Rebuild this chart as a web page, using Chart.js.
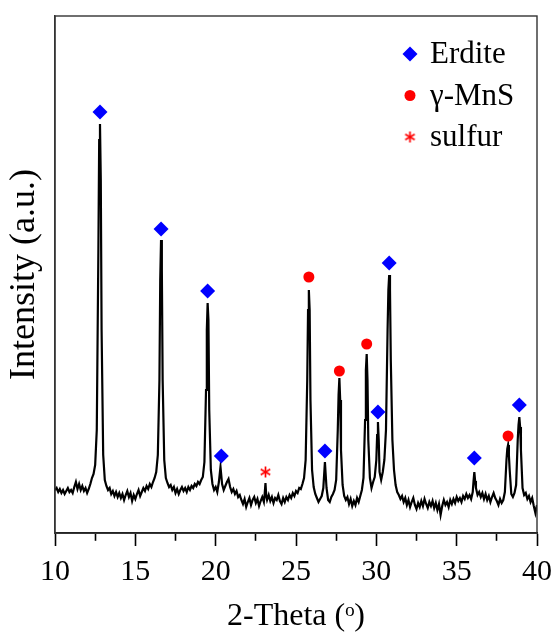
<!DOCTYPE html>
<html>
<head>
<meta charset="utf-8">
<script src="https://cdn.jsdelivr.net/npm/chart.js@4.4.0/dist/chart.umd.min.js"></script>
<style>
  html, body { margin: 0; padding: 0; background: #fff; }
  #wrap { width: 560px; height: 633px; }
</style>
</head>
<body>
<div id="wrap"><canvas id="xrd" width="560" height="633"></canvas></div>
<script>
// --- pattern (2-theta in degrees, intensity in a.u.) ---
const twoTheta = [
  10.0, 10.1, 10.2, 10.3, 10.4, 10.5, 10.6, 10.7, 10.8, 10.9,
  11.0, 11.1, 11.2, 11.3, 11.4, 11.5, 11.6, 11.7, 11.8, 11.9,
  12.0, 12.1, 12.2, 12.3, 12.4, 12.5, 12.6, 12.7, 12.75, 12.8, 12.85, 12.9,
  13.0, 13.1, 13.2, 13.3, 13.4, 13.5, 13.6, 13.7, 13.8, 13.9,
  14.0, 14.1, 14.2, 14.3, 14.4, 14.5, 14.6, 14.7, 14.8, 14.9,
  15.0, 15.1, 15.2, 15.3, 15.4, 15.5, 15.6, 15.7, 15.8, 15.9,
  16.0, 16.1, 16.2, 16.3, 16.4, 16.5, 16.55, 16.6, 16.65, 16.7, 16.8, 16.9,
  17.0, 17.1, 17.2, 17.3, 17.4, 17.5, 17.6, 17.7, 17.8, 17.9,
  18.0, 18.1, 18.2, 18.3, 18.4, 18.5, 18.6, 18.7, 18.8, 18.9,
  19.0, 19.1, 19.2, 19.3, 19.4, 19.45, 19.5, 19.55, 19.6, 19.7, 19.8, 19.9,
  20.0, 20.1, 20.2, 20.3, 20.4, 20.5, 20.6, 20.7, 20.8, 20.9,
  21.0, 21.1, 21.2, 21.3, 21.4, 21.5, 21.6, 21.7, 21.8, 21.9,
  22.0, 22.1, 22.2, 22.3, 22.4, 22.5, 22.6, 22.7, 22.8, 22.9,
  23.0, 23.05, 23.1, 23.15, 23.2, 23.3, 23.4, 23.5, 23.6, 23.7, 23.8, 23.9,
  24.0, 24.1, 24.2, 24.3, 24.4, 24.5, 24.6, 24.7, 24.8, 24.9,
  25.0, 25.1, 25.2, 25.3, 25.4, 25.5, 25.6, 25.7, 25.75, 25.8, 25.85, 25.9,
  26.0, 26.1, 26.2, 26.3, 26.4, 26.5, 26.6, 26.7, 26.8, 26.9,
  27.0, 27.1, 27.2, 27.3, 27.4, 27.5, 27.6, 27.65, 27.7, 27.75, 27.8, 27.9,
  28.0, 28.1, 28.2, 28.3, 28.4, 28.5, 28.6, 28.7, 28.8, 28.9,
  29.0, 29.1, 29.2, 29.3, 29.35, 29.4, 29.45, 29.5, 29.6, 29.7, 29.8, 29.9,
  30.0, 30.05, 30.1, 30.15, 30.2, 30.3, 30.4, 30.5, 30.6, 30.7, 30.75, 30.8, 30.85, 30.9,
  31.0, 31.1, 31.2, 31.3, 31.4, 31.5, 31.6, 31.7, 31.8, 31.9,
  32.0, 32.1, 32.2, 32.3, 32.4, 32.5, 32.6, 32.7, 32.8, 32.9,
  33.0, 33.1, 33.2, 33.3, 33.4, 33.5, 33.6, 33.7, 33.8, 33.9,
  34.0, 34.1, 34.2, 34.3, 34.4, 34.5, 34.6, 34.7, 34.8, 34.9,
  35.0, 35.1, 35.2, 35.3, 35.4, 35.5, 35.6, 35.7, 35.8, 35.9,
  36.0, 36.05, 36.1, 36.15, 36.2, 36.3, 36.4, 36.5, 36.6, 36.7, 36.8, 36.9,
  37.0, 37.1, 37.2, 37.3, 37.4, 37.5, 37.6, 37.7, 37.8, 37.9,
  38.0, 38.1, 38.15, 38.2, 38.25, 38.3, 38.4, 38.5, 38.6, 38.7, 38.8, 38.85, 38.9, 38.95,
  39.0, 39.1, 39.2, 39.3, 39.4, 39.5, 39.6, 39.7, 39.8, 39.9,
  40.0
];
const intensity = [
  43, 45, 41, 44, 40, 43, 39, 42, 45, 41,
  43, 40, 46, 51, 44, 49, 43, 47, 42, 45,
  40, 44, 49, 55, 59, 68, 103, 283, 393, 409, 353, 203,
  78, 53, 47, 43, 45, 39, 42, 37, 41, 36,
  40, 35, 39, 33, 38, 42, 36, 40, 32, 38,
  34, 39, 43, 37, 41, 45, 42, 47, 44, 49,
  46, 51, 55, 61, 78, 153, 253, 293, 263, 153, 73, 55,
  50, 46, 48, 43, 46, 40, 44, 39, 43, 46,
  42, 45, 41, 46, 43, 47, 45, 49, 47, 51,
  49, 53, 56, 71, 143, 203, 230, 213, 123, 63, 49, 43,
  46, 41, 51, 66, 49, 43, 47, 51, 54, 46,
  41, 44, 39, 42, 36, 38, 33, 29, 34, 26,
  31, 35, 28, 33, 36, 30, 34, 27, 32, 36,
  31, 39, 50, 37, 33, 38, 32, 36, 30, 35, 33, 38,
  32, 29, 35, 31, 36, 33, 38, 35, 40, 37,
  42, 40, 45, 44, 49, 55, 73, 153, 223, 243, 223, 133,
  63, 46, 39, 35, 31, 34, 37, 45, 71, 45,
  33, 31, 36, 39, 43, 53, 103, 138, 155, 133, 83, 48,
  37, 33, 36, 29, 34, 27, 32, 28, 35, 31,
  37, 43, 55, 113, 163, 179, 153, 93, 55, 45, 51, 56,
  73, 98, 111, 93, 61, 53, 61, 73, 103, 203, 243, 258, 243, 173,
  93, 63, 48, 41, 38, 34, 37, 31, 35, 28,
  33, 26, 31, 35, 28, 24, 30, 26, 32, 27,
  34, 29, 25, 31, 27, 32, 25, 30, 23, 29,
  18, 27, 33, 28, 31, 26, 33, 29, 34, 30,
  36, 32, 35, 31, 37, 34, 39, 35, 38, 34,
  41, 52, 61, 52, 45, 38, 41, 36, 40, 34, 39, 33,
  37, 31, 36, 40, 35, 32, 28, 34, 30, 33,
  41, 73, 84, 88, 78, 63, 39, 36, 40, 48, 93, 108, 116, 106,
  83, 45, 38, 40, 34, 37, 31, 35, 27, 20,
  28
];

// --- phase markers ---
const erditeTheta = [12.8, 16.6, 19.5, 20.35, 26.8, 30.1, 30.8, 36.1, 38.9];
const erditeLevel = [421, 304, 242, 77, 82, 121, 270, 75, 128];
const mnsTheta = [25.8, 27.7, 29.4, 38.2];
const mnsLevel = [256, 162, 189, 97];
const sulfurTheta = [23.1];
const sulfurLevel = [61];

const xTickLabels = [10, 15, 20, 25, 30, 35, 40];

const SERIF = '"Liberation Serif", "Times New Roman", serif';
const toPoints = (xs, ys) => xs.map((x, i) => ({ x: x, y: ys[i] }));

// asterisk marker for sulfur, drawn once on a small canvas
const makeAsterisk = (size, color) => {
    const c = document.createElement('canvas');
    c.width = size;
    c.height = size;
    const g = c.getContext('2d');
    g.strokeStyle = color;
    g.lineWidth = 1.7;
    const m = size / 2;
    const r = size / 2 - 1;
    for (let k = 0; k < 3; k++) {
        const a = Math.PI / 2 + k * Math.PI / 3;
        g.beginPath();
        g.moveTo(m + r * Math.cos(a), m + r * Math.sin(a));
        g.lineTo(m - r * Math.cos(a), m - r * Math.sin(a));
        g.stroke();
    }
    return c;
};
const asterisk = makeAsterisk(13, '#ff0000');

// box round the plot area
const frame = {
    id: 'frame',
    afterDraw(chart) {
        const { ctx, chartArea: a } = chart;
        ctx.save();
        ctx.strokeStyle = '#333';
        ctx.lineWidth = 1.4;
        ctx.strokeRect(a.left, a.top, a.right - a.left, a.bottom - a.top);
        ctx.restore();
    }
};

// legend drawn inside the top right corner
const insideLegend = {
    id: 'insideLegend',
    afterDraw(chart) {
        const { ctx, chartArea: a } = chart;
        const sets = chart.data.datasets.filter(d => d.inLegend);
        ctx.save();
        ctx.font = '31px ' + SERIF;
        ctx.textBaseline = 'middle';
        sets.forEach((ds, i) => {
            const x = a.right - 127;
            const y = a.top + 38 + i * 41.5;
            ctx.fillStyle = ds.backgroundColor;
            ctx.strokeStyle = ds.borderColor;
            Chart.helpers.drawPoint(ctx, {
                pointStyle: ds.pointStyle, radius: ds.pointRadius, rotation: 0, borderWidth: 0
            }, x, y);
            ctx.fillStyle = '#000';
            ctx.fillText(ds.label, x + 20, y + 1);
        });
        ctx.restore();
    }
};

const ctx = document.getElementById('xrd').getContext('2d');

new Chart(ctx, {
    type: 'scatter',
    data: {
        datasets: [
            {
                label: 'pattern',
                data: toPoints(twoTheta, intensity),
                showLine: true,
                borderColor: '#000',
                borderWidth: 2.2,
                pointRadius: 0,
                tension: 0,
                order: 1
            },
            {
                label: 'Erdite',
                inLegend: true,
                data: toPoints(erditeTheta, erditeLevel),
                pointStyle: 'rectRot',
                pointRadius: 7.5,
                backgroundColor: '#0000ff',
                borderColor: '#0000ff',
                borderWidth: 0,
                order: 0
            },
            {
                label: 'γ-MnS',
                inLegend: true,
                data: toPoints(mnsTheta, mnsLevel),
                pointStyle: 'circle',
                pointRadius: 5.5,
                backgroundColor: '#ff0000',
                borderColor: '#ff0000',
                borderWidth: 0,
                order: 0
            },
            {
                label: 'sulfur',
                inLegend: true,
                data: toPoints(sulfurTheta, sulfurLevel),
                pointStyle: asterisk,
                pointRadius: 6,
                backgroundColor: '#ff0000',
                borderColor: '#ff0000',
                borderWidth: 0,
                order: 0
            }
        ]
    },
    options: {
        responsive: false,
        animation: false,
        events: [],
        layout: { padding: { top: 16, right: 20, left: 0, bottom: 0 } },
        plugins: {
            legend: { display: false },
            tooltip: { enabled: false }
        },
        scales: {
            x: {
                type: 'linear',
                min: 10,
                max: 40,
                afterFit: (s) => { s.height = 100; },
                ticks: {
                    stepSize: 2.5,
                    autoSkip: false,
                    maxRotation: 0,
                    padding: 8,
                    color: '#000',
                    font: { family: SERIF, size: 30 },
                    callback: (v) => (xTickLabels.includes(v) ? String(v) : '')
                },
                grid: {
                    drawOnChartArea: false,
                    drawTicks: true,
                    tickLength: 13,
                    tickColor: '#000',
                    tickWidth: 1.6,
                    tickBorderDash: (c) => (c.tick && xTickLabels.includes(c.tick.value) ? [] : [7, 30])
                },
                border: { display: true, color: '#000', width: 1.8 },
                title: {
                    display: true,
                    text: '2-Theta (ᵒ)',
                    color: '#000',
                    font: { family: SERIF, size: 32, lineHeight: 1 },
                    padding: { top: 0, bottom: 0 }
                }
            },
            y: {
                min: 0,
                max: 517,
                afterFit: (s) => { s.width = 55; },
                ticks: { display: false },
                grid: { display: false, drawTicks: false },
                border: { display: true, color: '#333', width: 1.4 },
                title: {
                    display: true,
                    text: 'Intensity (a.u.)',
                    color: '#000',
                    font: { family: SERIF, size: 36, lineHeight: 1 },
                    padding: { top: 7, bottom: 0 }
                }
            }
        }
    },
    plugins: [frame, insideLegend]
});
</script>
</body>
</html>
